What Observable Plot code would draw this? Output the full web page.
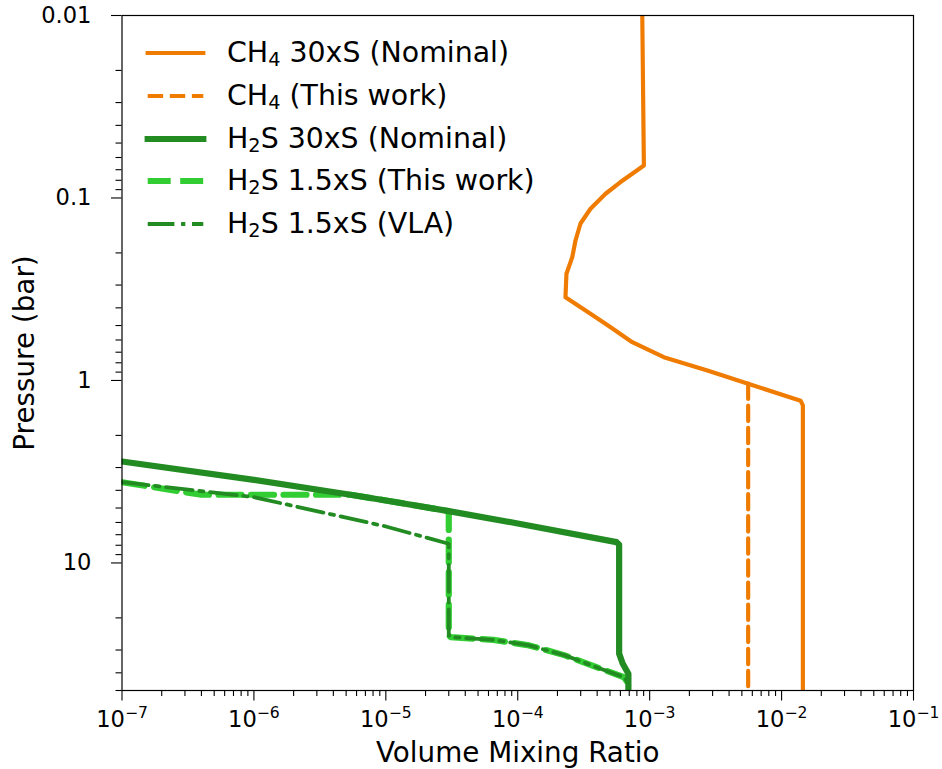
<!DOCTYPE html>
<html>
<head>
<meta charset="utf-8">
<script src="https://cdn.jsdelivr.net/npm/d3@7"></script>
<script src="https://cdn.jsdelivr.net/npm/@observablehq/plot@0.6"></script>
<style>
  body { margin: 0; background: #fff; font-family: "DejaVu Sans", sans-serif; }
  #wrap { position: relative; width: 942px; height: 769px; }
  #legend { position: absolute; left: 145px; top: 32px; }
  .row { display: flex; align-items: center; height: 42.7px; }
  .row svg { width: 61px; height: 12px; margin-right: 21px; overflow: visible; }
  .row span.t { font-size: 28.4px; line-height: 1; white-space: nowrap; color: #000; }
  .sub { font-size: 0.68em; position: relative; top: 0.22em; }
</style>
</head>
<body>
<div id="wrap"><div id="legend"></div></div>
<script>
// ---- data ----
const ch4NominalVmr = [8.79e-4, 9.04e-4, 7.38e-4, 6.01e-4, 4.63e-4, 3.56e-4, 2.99e-4, 2.74e-4, 2.59e-4, 2.34e-4, 2.30e-4, 3.56e-4, 5.06e-4, 7.38e-4, 1.28e-3, 2.74e-3, 5.50e-3, 1.393e-2, 1.45e-2, 1.45e-2];
const ch4NominalP   = [0.01, 0.0664, 0.0736, 0.0818, 0.0948, 0.1146, 0.138, 0.171, 0.211, 0.260, 0.350, 0.431, 0.511, 0.617, 0.745, 0.881, 1.04, 1.29, 1.37, 50];

const ch4ThisWorkVmr = [5.58e-3, 5.58e-3];
const ch4ThisWorkP   = [1.04, 50];

const h2sNominalVmr = [1e-7, 1e-6, 5.4e-6, 1e-5, 3.0e-5, 1e-4, 5.61e-4, 5.87e-4, 5.87e-4, 6.24e-4, 6.90e-4, 6.90e-4];
const h2sNominalP   = [2.78, 3.505, 4.23, 4.545, 5.20, 6.075, 7.69, 7.95, 31.4, 35.6, 40.5, 50];

const h2sThisWorkVmr = [1e-7, 4e-7, 5.4e-6, 1e-5, 3.0e-5, 3.0e-5, 3.1e-5, 6.55e-5, 1.22e-4, 2.28e-4, 4.25e-4, 6.4e-4, 6.7e-4];
const h2sThisWorkP   = [3.61, 4.23, 4.23, 4.545, 5.20, 25.0, 25.5, 26.4, 28.3, 32.1, 38.0, 42.3, 44.5];

const h2sVlaVmr = [1e-7, 1e-6, 1e-5, 3.0e-5, 3.0e-5, 3.1e-5, 6.55e-5, 1.22e-4, 2.28e-4, 4.25e-4, 6.4e-4, 6.7e-4];
const h2sVlaP   = [3.61, 4.36, 6.31, 7.85, 25.0, 25.5, 26.4, 28.3, 32.1, 38.0, 42.3, 44.5];

const xMajorTicks = [1e-7, 1e-6, 1e-5, 1e-4, 1e-3, 1e-2, 1e-1];
const xTickExponents = ["−7", "−6", "−5", "−4", "−3", "−2", "−1"];
const yMajorTicks = [0.01, 0.1, 1, 10];
const yTickLabels = ["0.01", "0.1", "1", "10"];
const xAxisLabel = "Volume Mixing Ratio";
const yAxisLabel = "Pressure (bar)";

const legendLabels = [
  ["CH", "4", " 30xS (Nominal)"],
  ["CH", "4", " (This work)"],
  ["H", "2", "S 30xS (Nominal)"],
  ["H", "2", "S 1.5xS (This work)"],
  ["H", "2", "S 1.5xS (VLA)"]
];

// ---- styles ----
const ORANGE = "#ef7b00", GREEN = "#228b22", LIME = "#32cd32";
const styles = [
  {stroke: ORANGE, width: 4.17, dash: null},
  {stroke: ORANGE, width: 4.17, dash: "15.4,6.7"},
  {stroke: GREEN, width: 6.2, dash: null},
  {stroke: LIME, width: 6.2, dash: "23,9.5"},
  {stroke: GREEN, width: 3.8, dash: "26.7,6.7,4.2,6.7"}
];

const rows = (xs, ps) => xs.map((x, i) => ({vmr: x, p: ps[i]}));

// minor tick positions
const xMinor = [];
for (let e = -7; e < -1; e++) for (let m = 2; m <= 9; m++) xMinor.push(m * Math.pow(10, e));
const yMinor = [];
for (let e = -2; e < 2; e++) for (let m = 2; m <= 9; m++) { const v = m * Math.pow(10, e); if (v <= 50) yMinor.push(v); }

const lineMark = (data, s) => Plot.line(data, {
  x: "vmr", y: "p", stroke: s.stroke, strokeWidth: s.width,
  strokeDasharray: s.dash || undefined, strokeLinejoin: "round", clip: true
});

const TICK_FONT = 22.6;
const chart = Plot.plot({
  width: 942, height: 769,
  marginLeft: 121.5, marginRight: 29, marginTop: 15, marginBottom: 79,
  style: {fontFamily: "DejaVu Sans", fontSize: TICK_FONT + "px", color: "black", background: "white"},
  x: {type: "log", domain: [1e-7, 1e-1], label: null},
  y: {type: "log", domain: [0.01, 50], reverse: true, label: null},
  marks: [
    lineMark(rows(ch4NominalVmr, ch4NominalP), styles[0]),
    lineMark(rows(ch4ThisWorkVmr, ch4ThisWorkP), styles[1]),
    lineMark(rows(h2sThisWorkVmr, h2sThisWorkP), styles[3]),
    lineMark(rows(h2sVlaVmr, h2sVlaP), styles[4]),
    lineMark(rows(h2sNominalVmr, h2sNominalP), styles[2]),
    Plot.axisX(xMinor, {tickSize: 6, tickFormat: () => "", fill: "none", label: null, strokeWidth: 1.1}),
    Plot.axisX(xMajorTicks, {tickSize: 10.5, tickPadding: 10, label: null, strokeWidth: 1.1, fontSize: TICK_FONT,
      tickFormat: d => "10^" + xTickExponents[xMajorTicks.indexOf(d)]}),
    Plot.axisY(yMinor, {tickSize: 6, tickFormat: () => "", fill: "none", label: null, strokeWidth: 1.1}),
    Plot.axisY(yMajorTicks, {tickSize: 10.5, tickPadding: 20, label: null, strokeWidth: 1.1, fontSize: TICK_FONT,
      tickFormat: d => yTickLabels[yMajorTicks.indexOf(d)]}),
    Plot.text([xAxisLabel], {frameAnchor: "bottom", dy: 71, fontSize: 27.8, text: d => d}),
    Plot.text([yAxisLabel], {frameAnchor: "left", textAnchor: "middle", dx: -97, rotate: -90, fontSize: 27.8, text: d => d}),
    Plot.frame({stroke: "black", strokeWidth: 1.2})
  ]
});

// superscript exponents on x tick labels
d3.select(chart).selectAll('g[aria-label="x-axis tick label"] text').each(function () {
  const t = this.textContent;
  if (!t.includes("^")) return;
  const [base, exp] = t.split("^");
  const sel = d3.select(this);
  sel.text(base);
  sel.append("tspan").attr("dy", -9).attr("font-size", (TICK_FONT * 0.69).toFixed(1) + "px").text(exp);
});

document.getElementById("wrap").prepend(chart);

// legend
const legend = d3.select("#legend");
legendLabels.forEach((lab, i) => {
  const s = styles[i];
  const row = legend.append("div").attr("class", "row");
  const svg = row.append("svg").attr("viewBox", "0 0 61 12");
  svg.append("line")
    .attr("x1", 2.7).attr("x2", 58.3).attr("y1", 6).attr("y2", 6)
    .attr("stroke", s.stroke).attr("stroke-width", s.width)
    .attr("stroke-linecap", s.dash ? "butt" : "square")
    .attr("stroke-dasharray", s.dash);
  const t = row.append("span").attr("class", "t");
  t.append("span").text(lab[0]);
  t.append("span").attr("class", "sub").text(lab[1]);
  t.append("span").text(lab[2]);
});
</script>
</body>
</html>
